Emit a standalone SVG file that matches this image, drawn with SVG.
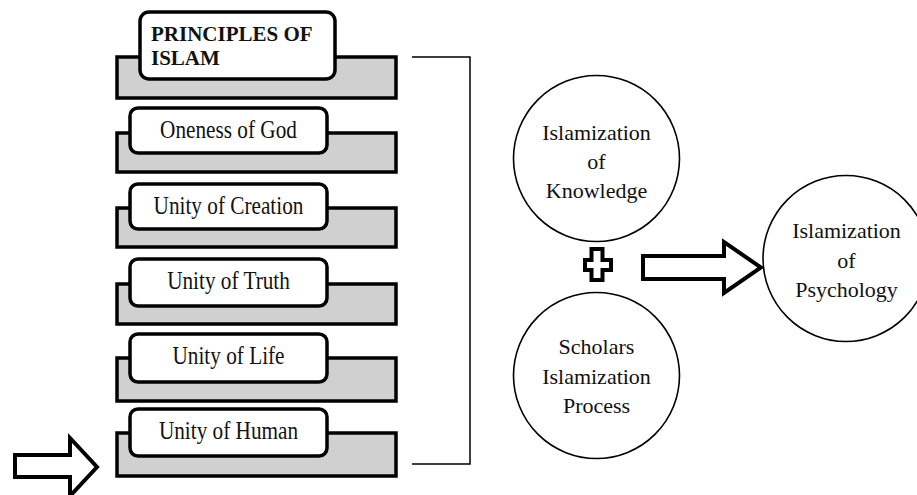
<svg xmlns="http://www.w3.org/2000/svg" width="917" height="495" viewBox="0 0 917 495">
  <style>
    .base { fill: #d0d0d0; stroke: #000; stroke-width: 3.5; }
    .tab { fill: #fff; stroke: #000; stroke-width: 3.5; }
    .lbl { font-family: "Liberation Serif", "Times New Roman", serif; font-size: 25px; fill: #111; text-anchor: middle; }
    .title { font-family: "Liberation Serif", "Times New Roman", serif; font-size: 21px; font-weight: bold; fill: #111; }
    .circ { fill: #fff; stroke: #000; stroke-width: 1.6; }
    .ctext { font-family: "Liberation Serif", "Times New Roman", serif; font-size: 22px; fill: #111; text-anchor: middle; }
    .block { fill: #fff; stroke: #000; stroke-width: 4; stroke-linejoin: miter; }
    .line { fill: none; stroke: #000; stroke-width: 1.5; }
  </style>

  <rect width="917" height="495" fill="#fff"/>

  <!-- principle stack: grey base with a white tab on top -->
  <g id="principles">
    <rect class="base" x="117" y="57" width="279" height="41"/>
    <rect class="tab" x="140" y="12" width="195" height="67" rx="9"/>
    <text class="title" x="151" y="41">PRINCIPLES OF</text>
    <text class="title" x="151" y="64.5">ISLAM</text>
  </g>

  <g id="oneness">
    <rect class="base" x="117" y="133" width="279" height="39"/>
    <rect class="tab" x="130" y="108" width="197" height="45" rx="8"/>
    <text class="lbl" transform="translate(228.5,138) scale(0.85,1)">Oneness of God</text>
  </g>

  <g id="creation">
    <rect class="base" x="117" y="208" width="279" height="39"/>
    <rect class="tab" x="130" y="184" width="197" height="45" rx="8"/>
    <text class="lbl" transform="translate(228.5,214) scale(0.85,1)">Unity of Creation</text>
  </g>

  <g id="truth">
    <rect class="base" x="117" y="284" width="279" height="40"/>
    <rect class="tab" x="130" y="259" width="197" height="47" rx="8"/>
    <text class="lbl" transform="translate(228.5,289) scale(0.85,1)">Unity of Truth</text>
  </g>

  <g id="life">
    <rect class="base" x="117" y="358" width="279" height="43"/>
    <rect class="tab" x="130" y="334" width="197" height="48" rx="8"/>
    <text class="lbl" transform="translate(228.5,364) scale(0.85,1)">Unity of Life</text>
  </g>

  <g id="human">
    <rect class="base" x="117" y="433" width="279" height="43"/>
    <rect class="tab" x="130" y="409" width="197" height="47" rx="8"/>
    <text class="lbl" transform="translate(228.5,439) scale(0.85,1)">Unity of Human</text>
  </g>

  <!-- circles -->
  <g id="knowledge">
    <circle class="circ" cx="596.5" cy="158.5" r="83"/>
    <text class="ctext" x="596.5" y="140">Islamization</text>
    <text class="ctext" x="596.5" y="169">of</text>
    <text class="ctext" x="596.5" y="198">Knowledge</text>
  </g>

  <g id="scholars">
    <circle class="circ" cx="596.5" cy="375.5" r="83"/>
    <text class="ctext" x="596.5" y="354">Scholars</text>
    <text class="ctext" x="596.5" y="384">Islamization</text>
    <text class="ctext" x="596.5" y="413">Process</text>
  </g>

  <g id="psychology">
    <circle class="circ" cx="846" cy="258.5" r="83"/>
    <text class="ctext" x="846.5" y="238">Islamization</text>
    <text class="ctext" x="846.5" y="268">of</text>
    <text class="ctext" x="846.5" y="297">Psychology</text>
  </g>

  <!-- connectors: bracket, plus sign, block arrows -->
  <g id="connectors">
    <polyline class="line" points="412,57 470,57 470,464 412,464"/>
    <path class="block" d="M591.5,249 H602.5 V260 H611 V270 H602.5 V280 H591.5 V270 H585 V260 H591.5 Z"/>
    <path class="block" d="M643,256 H724 V242 L761,267.5 L724,293 V279 H643 Z"/>
    <path class="block" d="M15,455 H70 V438 L97,467 L70,496 V477 H15 Z"/>
  </g>
</svg>
